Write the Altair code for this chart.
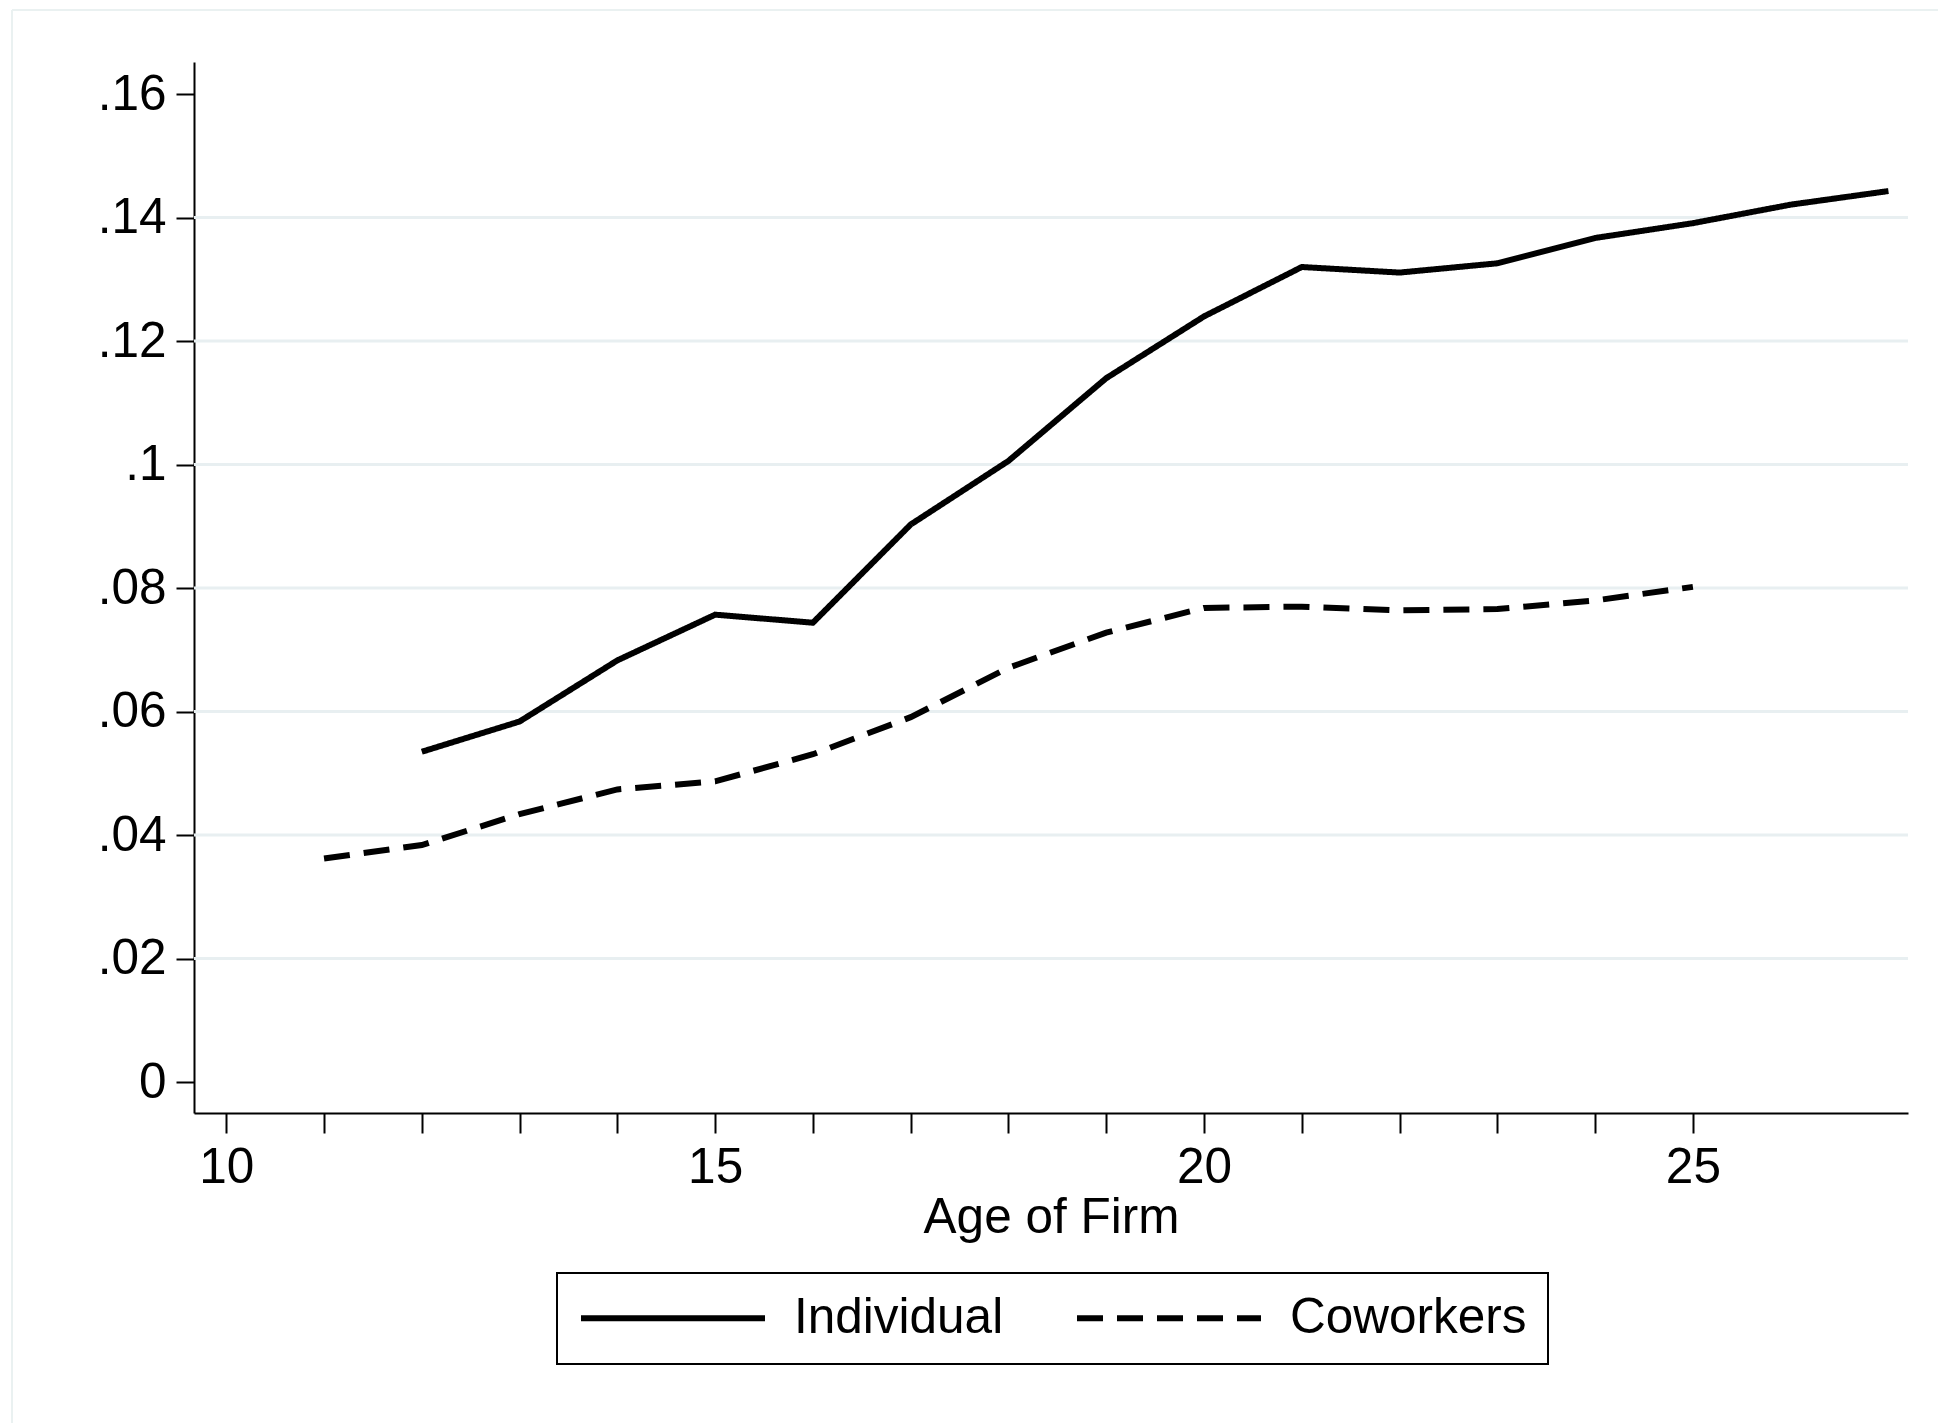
import altair as alt
import pandas as pd

# ---- data ----
ind_age = list(range(12, 28))
ind_val = [0.0535, 0.0584, 0.0683, 0.0757, 0.0744, 0.0903, 0.1006, 0.1140,
           0.1240, 0.1320, 0.1311, 0.1326, 0.1367, 0.1391, 0.1421, 0.1443]
cow_age = list(range(11, 26))
cow_val = [0.0362, 0.0384, 0.0434, 0.0474, 0.0487, 0.0531, 0.0591, 0.0671,
           0.0728, 0.0768, 0.0770, 0.0764, 0.0766, 0.0780, 0.0802]
series_names = ["Individual", "Coworkers"]
y_ticks = [0, 0.02, 0.04, 0.06, 0.08, 0.10, 0.12, 0.14, 0.16]
grid_vals = [0.02, 0.04, 0.06, 0.08, 0.10, 0.12, 0.14]
x_ticks = list(range(10, 26))

df = pd.DataFrame(
    {"age": ind_age + cow_age,
     "value": ind_val + cow_val,
     "series": [series_names[0]] * len(ind_age) + [series_names[1]] * len(cow_age)}
)
grid_df = pd.DataFrame({"g": grid_vals})

W, H = 1714, 1051
FONT = "Liberation Sans"
FS = 49.5

xscale = alt.Scale(domain=[9.67, 27.2], nice=False, zero=False)
yscale = alt.Scale(domain=[-0.005, 0.1652], nice=False, zero=False)

y_axis = alt.Axis(values=y_ticks, title=None,
                  labelExpr="datum.value == 0 ? '0' : replace(format(datum.value, '.2~f'), '0.', '.')",
                  tickSize=18, labelPadding=10,
                  labelOverlap=False, labelBound=False, labelFlush=False)

grid = alt.Chart(grid_df).mark_rule(color="#e8eff1", strokeWidth=3).encode(
    y=alt.Y("g:Q", scale=yscale, axis=y_axis),
    x=alt.value(0),
    x2=alt.value(W),
)

frame_top = alt.Chart(grid_df).mark_rule(color="#eaf1f1", strokeWidth=1.5).encode(
    x=alt.value(-182), x2=alt.value(1770), y=alt.value(-52)
)
frame_left = alt.Chart(grid_df).mark_rule(color="#eaf1f1", strokeWidth=1.5).encode(
    x=alt.value(-182), y=alt.value(-52), y2=alt.value(1365)
)

lines = alt.Chart(df).mark_line(color="black", strokeWidth=6, strokeJoin="miter").encode(
    x=alt.X("age:Q", scale=xscale,
            axis=alt.Axis(values=x_ticks, title="Age of Firm",
                          labelExpr="datum.value % 5 == 0 ? datum.value : ''",
                          tickSize=20, labelPadding=10, titlePadding=2,
                          labelOverlap=False, labelBound=False, labelFlush=False)),
    y=alt.Y("value:Q", scale=yscale, axis=y_axis),
    strokeDash=alt.StrokeDash(
        "series:N",
        scale=alt.Scale(domain=series_names, range=[[1, 0], [26, 14]]),
        sort=series_names,
        legend=alt.Legend(
            title=None, orient="none", direction="horizontal",
            legendX=363, legendY=1211,
            symbolType="stroke", symbolSize=184 * 184, symbolStrokeWidth=6,
            symbolStrokeColor="black", labelOffset=26, columnPadding=70,
            padding=21, strokeColor="black", clipHeight=48, labelLimit=0,
            labelFont=FONT, labelFontSize=FS, labelColor="black",
        ),
    ),
    order="age:Q",
)

chart = (
    alt.layer(frame_top, frame_left, grid, lines)
    .properties(width=W, height=H, background="white",
                padding={"left": 186, "top": 54, "right": 30, "bottom": 310},
                autosize=alt.AutoSizeParams(type="none"))
    .configure_view(stroke=None)
    .configure_axis(
        domainColor="black", domainWidth=2, tickColor="black", tickWidth=2,
        labelFont=FONT, labelFontSize=FS, labelColor="black",
        titleFont=FONT, titleFontSize=FS, titleColor="black", titleFontWeight="normal",
        grid=False,
    )
    .configure_legend(strokeWidth=2)
)

chart.save("out.html", embed_options={"renderer": "svg", "actions": False})
